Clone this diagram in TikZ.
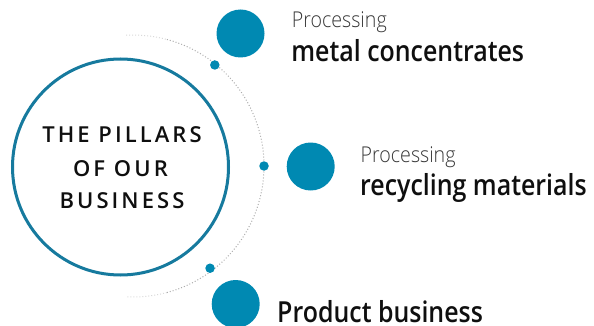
\documentclass[tikz,border=0pt]{standalone}
\usepackage{fontspec}
\usetikzlibrary{calc}
\setmainfont{Open Sans}
\newfontfamily\lightsans{Open Sans Light}[FakeStretch=0.9]
\newfontfamily\semisans{Open Sans Semibold}[FakeStretch=0.86]
\newfontfamily\capsans{Open Sans Semibold}[LetterSpace=14]
\definecolor{pillarblue}{RGB}{0,137,178}
\definecolor{ringblue}{RGB}{22,122,158}
\definecolor{textgray}{RGB}{55,55,55}
\definecolor{textblack}{RGB}{15,15,15}
\tikzset{
  bigdot/.style={circle,fill=pillarblue,minimum size=48pt,inner sep=0pt},
  smalldot/.style={circle,fill=pillarblue,minimum size=9.5pt,inner sep=0pt},
  thinlabel/.style={anchor=base west,inner sep=0pt,text=textgray,
    font=\lightsans\fontsize{21.8}{26}\selectfont},
  boldlabel/.style={anchor=base west,inner sep=0pt,text=textblack,
    font=\semisans\fontsize{29}{34}\selectfont},
  pillarcaps/.style={anchor=base,inner sep=0pt,text=textblack,
    font=\capsans\fontsize{22}{26}\selectfont}
}
\begin{document}
\begin{tikzpicture}[x=1pt,y=-1pt]
  \useasboundingbox (0,0) rectangle (594,326);
  \clip (0,0) rectangle (594,326);
  %%%%%%%%%%%%%The dotted orbit%%%%%%%%%%%%%%%%%%%%%%
  \coordinate (orbit) at (133,166);
  \draw[gray!30,dotted,line width=1pt] (orbit) ++(-93:131) arc[start angle=-93,end angle=-75,radius=131];
  \draw[gray!65,dotted,line width=1pt] (orbit) ++(-75:131) arc[start angle=-75,end angle=75,radius=131];
  \draw[gray!30,dotted,line width=1pt] (orbit) ++(75:131) arc[start angle=75,end angle=93,radius=131];
  \node[smalldot] (dota) at ($(orbit)+(-51:130)$) {};
  \node[smalldot] (dotb) at ($(orbit)+(0:131)$) {};
  \node[smalldot] (dotc) at ($(orbit)+(53:128)$) {};

  %%%%%%%%%%%%%The centre circle%%%%%%%%%%%%%%%%%%%%%%
  \node[circle,draw=ringblue,line width=3pt,minimum size=216pt,inner sep=0pt] (core) at (120.5,167) {};
  \node[pillarcaps] (capsa) at (122,142.7) {THE PILLARS};
  \node[pillarcaps] (capsb) at (120.5,176.5) {OF OUR};
  \node[pillarcaps] (capsc) at (122,208) {BUSINESS};

  %%%%%%%%%%%%%The three pillars%%%%%%%%%%%%%%%%%%%%%%
  \node[bigdot] (metal) at (240.5,33.5) {};
  \node[bigdot] (recyc) at (310.7,166.5) {};
  \node[bigdot] (prod) at (235.7,304) {};

  \node[thinlabel] (metalpre) at (291.7,27.3) {Processing};
  \node[boldlabel] (metalname) at (291.2,61.7) {metal concentrates};
  \node[thinlabel] (recycpre) at (360.5,162.3) {Processing};
  \node[boldlabel] (recycname) at (360,195) {recycling materials};
  \node[boldlabel,text depth=0pt] (prodname) at (277,322.5) {Product business};
\end{tikzpicture}
\end{document}
